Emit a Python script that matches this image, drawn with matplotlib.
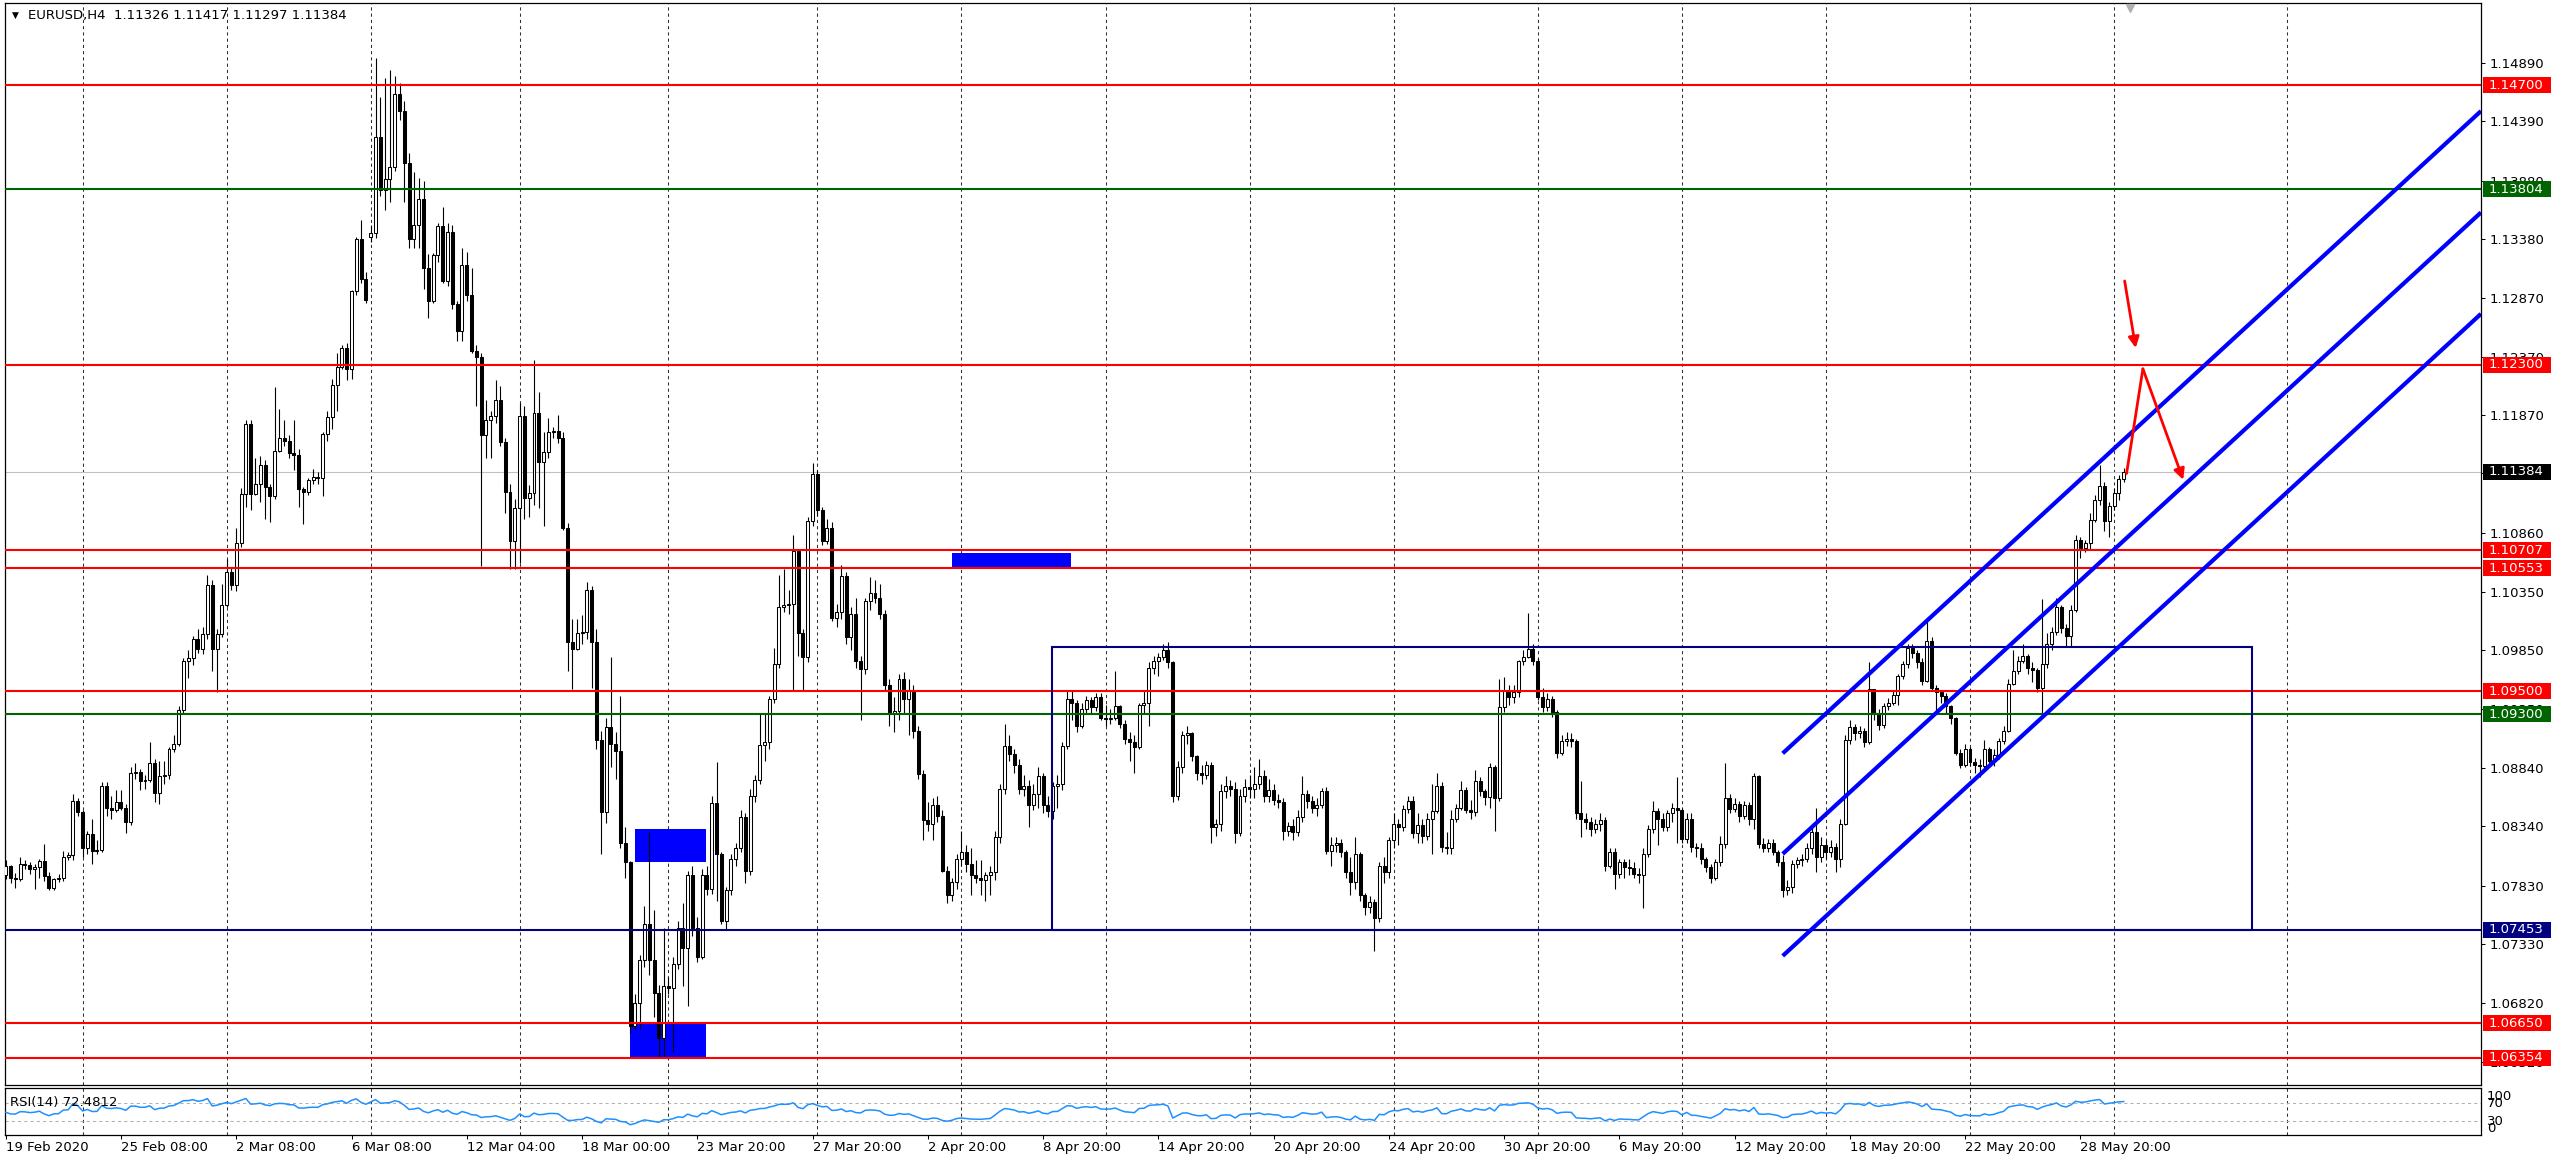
import numpy as np
import matplotlib
matplotlib.use('Agg')
import matplotlib.pyplot as plt
from matplotlib.patches import Rectangle
import matplotlib.transforms as mtransforms

plt.rcParams['font.family'] = ['DejaVu Sans']

# ---------------- DATA ----------------
header_text = "EURUSD,H4  1.11326 1.11417 1.11297 1.11384"
rsi_label = "RSI(14) 72.4812"

# H4 candles, prices in pips above 1.0000 (e.g. 800 -> 1.0800)
first_open_pips = 792
gap_open_pips = {76: 1340}
close_pips = [
    800, 790, 789, 802, 801, 797, 799, 804, 791, 781,
    789, 790, 808, 809, 856, 846, 815, 827, 813, 814,
    869, 850, 848, 855, 850, 838, 880, 881, 873, 874,
    888, 863, 877, 878, 900, 905, 934, 976, 978, 995,
    986, 999, 1041, 986, 999, 1024, 1052, 1041, 1077, 1119,
    1179, 1119, 1128, 1144, 1125, 1117, 1156, 1167, 1165, 1154,
    1153, 1123, 1121, 1131, 1134, 1133, 1171, 1185, 1213, 1228,
    1244, 1226, 1293, 1338, 1304, 1286, 1343, 1425, 1380, 1389,
    1400, 1462, 1448, 1403, 1338, 1350, 1372, 1313, 1285, 1324,
    1349, 1302, 1344, 1282, 1259, 1316, 1290, 1242, 1237, 1170,
    1183, 1186, 1200, 1164, 1121, 1079, 1107, 1186, 1116, 1120,
    1189, 1147, 1155, 1172, 1173, 1167, 1090, 992, 986, 1000,
    1001, 1037, 992, 908, 846, 919, 905, 899, 820, 803,
    663, 682, 719, 750, 719, 691, 652, 697, 695, 716,
    747, 730, 792, 747, 722, 792, 780, 854, 810, 753,
    779, 806, 815, 842, 796, 860, 874, 904, 906, 943,
    973, 1022, 1024, 1025, 1070, 1000, 979, 1096, 1136, 1105,
    1079, 1090, 1013, 1018, 1049, 996, 1016, 976, 969, 1027,
    1034, 1030, 1016, 955, 930, 933, 960, 943, 950, 916,
    879, 839, 836, 852, 843, 796, 775, 786, 806, 812,
    802, 792, 790, 788, 792, 795, 825, 866, 903, 896,
    887, 866, 869, 852, 862, 877, 852, 847, 869, 870,
    903, 943, 940, 920, 935, 942, 936, 945, 927, 926,
    927, 937, 922, 909, 906, 902, 938, 940, 970, 976,
    979, 985, 975, 860, 885, 912, 914, 894, 880, 878,
    887, 833, 836, 864, 869, 866, 828, 860, 868, 866,
    870, 877, 860, 865, 857, 855, 830, 834, 829, 842,
    862, 856, 850, 852, 864, 813, 818, 820, 812, 795,
    786, 810, 775, 765, 769, 755, 800, 795, 822, 836,
    833, 849, 856, 828, 835, 826, 840, 847, 869, 816,
    815, 840, 850, 865, 848, 846, 873, 864, 859, 885,
    858, 936, 950, 945, 949, 976, 979, 986, 976, 945,
    936, 943, 932, 897, 907, 909, 907, 845, 840, 838,
    832, 836, 839, 800, 812, 793, 803, 799, 798, 793,
    792, 810, 832, 847, 840, 833, 845, 850, 848, 823,
    840, 816, 815, 806, 799, 790, 803, 819, 858, 849,
    853, 843, 852, 840, 877, 819, 815, 820, 812, 803,
    779, 782, 802, 805, 806, 815, 829, 808, 818, 812,
    816, 806, 836, 908, 919, 914, 916, 906, 952, 930,
    921, 937, 940, 947, 963, 973, 987, 983, 975, 959,
    993, 953, 949, 946, 937, 927, 897, 887, 900, 889,
    887, 886, 900, 890, 895, 907, 916, 956, 967, 976,
    980, 970, 968, 953, 973, 990, 1001, 1022, 1004, 997,
    1020, 1080, 1073, 1077, 1097, 1114, 1126, 1096, 1109, 1120,
    1132, 1138.4,
]
high_pips = [
    805, 801, 794, 808, 805, 803, 802, 806, 819, 795,
    790, 793, 813, 812, 862, 858, 848, 830, 840, 822,
    872, 872, 860, 865, 865, 853, 885, 888, 883, 878,
    906, 892, 890, 890, 902, 912, 937, 978, 985, 997,
    1003, 1005, 1050, 1045, 1003, 1042, 1063, 1056, 1090, 1124,
    1183, 1183, 1150, 1152, 1148, 1128, 1211, 1192, 1183, 1170,
    1183, 1158, 1125, 1133, 1141, 1138, 1172, 1190, 1218, 1240,
    1247, 1249, 1294, 1340, 1354, 1310, 1350, 1493, 1460, 1476,
    1483, 1478, 1472, 1456, 1412, 1395, 1390, 1388, 1325, 1326,
    1352, 1365, 1352, 1350, 1285, 1330, 1327, 1313, 1247, 1240,
    1200, 1190, 1217, 1212, 1167, 1128, 1115, 1197, 1195, 1127,
    1234, 1207, 1172, 1184, 1177, 1187, 1172, 1094, 1012, 1012,
    1015, 1044, 1040, 1003, 916, 927, 979, 915, 946, 833,
    804, 690, 724, 766, 829, 762, 698, 747, 705, 722,
    753, 768, 796, 800, 756, 797, 800, 860, 889, 812,
    782, 810, 820, 848, 845, 866, 878, 931, 931, 946,
    987, 1050, 1055, 1037, 1084, 1071, 1003, 1099, 1146, 1140,
    1108, 1098, 1095, 1025, 1058, 1052, 1022, 1030, 980, 1030,
    1048, 1045, 1042, 1020, 960, 945, 965, 966, 960, 955,
    920, 882, 855, 858, 860, 848, 800, 790, 810, 830,
    818, 815, 805, 805, 795, 800, 830, 870, 922, 912,
    900, 892, 878, 874, 870, 885, 880, 860, 872, 878,
    906, 950, 950, 942, 940, 946, 945, 948, 948, 938,
    935, 967, 938, 925, 915, 912, 940, 950, 975, 980,
    983, 990, 992, 976, 890, 916, 920, 915, 895, 887,
    890, 889, 840, 870, 877, 874, 872, 866, 875, 878,
    885, 892, 882, 875, 870, 862, 858, 838, 840, 848,
    877, 865, 860, 858, 867, 868, 825, 825, 823, 814,
    808, 825, 812, 777, 774, 772, 803, 808, 825, 845,
    840, 852, 860, 860, 845, 840, 845, 870, 880, 872,
    829, 848, 853, 873, 868, 857, 882, 876, 866, 888,
    887, 960, 962, 955, 955, 977, 985, 1017, 990, 978,
    953, 948, 946, 934, 912, 915, 914, 909, 873, 845,
    842, 840, 845, 842, 815, 815, 806, 806, 806, 803,
    798, 815, 835, 856, 850, 845, 848, 854, 876, 850,
    845, 845, 820, 820, 808, 802, 806, 826, 888, 862,
    858, 856, 856, 855, 880, 878, 824, 823, 823, 814,
    809, 788, 805, 808, 810, 820, 835, 850, 825, 822,
    822, 820, 840, 912, 925, 922, 920, 918, 975, 952,
    935, 940, 944, 950, 965, 976, 990, 990, 985, 978,
    1009, 996, 955, 950, 948, 938, 928, 900, 905, 902,
    893, 892, 908, 902, 900, 910, 920, 960, 985, 980,
    990, 982, 975, 970, 1029, 1000, 1005, 1030, 1024, 1008,
    1024, 1084, 1082, 1080, 1103, 1118, 1144, 1129, 1112, 1124,
    1135, 1141.7,
]
low_pips = [
    789, 785, 781, 787, 797, 793, 780, 790, 787, 779,
    779, 786, 787, 805, 805, 843, 808, 810, 802, 810,
    812, 843, 840, 846, 848, 828, 835, 875, 865, 866,
    872, 855, 853, 870, 875, 898, 903, 930, 961, 972,
    983, 982, 995, 967, 949, 996, 1022, 1037, 1036, 1074,
    1108, 1105, 1118, 1112, 1098, 1095, 1115, 1155, 1160, 1150,
    1140, 1108, 1093, 1118, 1128, 1128, 1117, 1165, 1175, 1190,
    1226, 1217, 1218, 1290, 1300, 1283, 1335, 1339, 1375, 1363,
    1370, 1396, 1440, 1370, 1330, 1330, 1330, 1295, 1270, 1283,
    1318, 1300, 1298, 1278, 1250, 1250, 1285, 1240, 1195, 1057,
    1150, 1150, 1180, 1160, 1103, 1055, 1055, 1060, 1098, 1099,
    1110, 1107, 1092, 1150, 1167, 1163, 1088, 967, 952, 985,
    990, 995, 953, 900, 810, 837, 885, 875, 815, 790,
    657, 660, 660, 713, 706, 670, 636, 636, 690, 640,
    712, 697, 680, 740, 718, 720, 775, 776, 770, 750,
    745, 775, 800, 812, 785, 792, 855, 870, 890, 900,
    940, 970, 1018, 1016, 950, 980, 950, 975, 1092, 1100,
    1075, 1076, 1010, 1005, 1012, 990, 985, 970, 925, 965,
    1020, 1026, 1012, 950, 920, 915, 925, 930, 912, 910,
    875, 822, 830, 822, 838, 795, 768, 770, 780, 800,
    795, 775, 785, 775, 770, 775, 788, 820, 862, 890,
    880, 862, 860, 833, 848, 850, 845, 842, 840, 850,
    865, 900, 925, 915, 918, 930, 930, 933, 925, 920,
    922, 925, 918, 905, 890, 880, 900, 930, 920, 965,
    963, 977, 970, 855, 857, 880, 905, 890, 874, 870,
    875, 820, 826, 830, 858, 860, 820, 826, 855, 858,
    858, 866, 855, 855, 852, 850, 822, 826, 822, 826,
    838, 850, 845, 843, 850, 810, 800, 812, 808, 790,
    775, 780, 770, 758, 760, 727, 752, 785, 790, 815,
    818, 830, 845, 824, 820, 820, 822, 810, 845, 812,
    810, 810, 838, 848, 845, 840, 843, 860, 852, 850,
    830, 856, 932, 938, 940, 945, 972, 978, 972, 942,
    932, 933, 928, 893, 895, 903, 902, 840, 825, 832,
    826, 828, 830, 796, 798, 780, 790, 790, 792, 790,
    785, 764, 808, 828, 818, 830, 830, 838, 820, 820,
    820, 812, 808, 802, 795, 785, 788, 800, 815, 845,
    846, 838, 840, 835, 832, 815, 812, 812, 809, 800,
    773, 775, 777, 798, 800, 803, 810, 795, 803, 806,
    808, 795, 799, 835, 905, 908, 910, 902, 905, 925,
    917, 918, 934, 938, 938, 960, 970, 978, 970, 955,
    958, 950, 930, 940, 930, 922, 895, 884, 885, 886,
    880, 876, 881, 885, 886, 892, 905, 915, 955, 965,
    974, 965, 958, 949, 928, 970, 985, 998, 1000, 988,
    988, 1018, 1064, 1069, 1071, 1095, 1110, 1087, 1082, 1105,
    1114, 1129.7,
]

x_labels = ["19 Feb 2020", "25 Feb 08:00", "2 Mar 08:00", "6 Mar 08:00", "12 Mar 04:00",
            "18 Mar 00:00", "23 Mar 20:00", "27 Mar 20:00", "2 Apr 20:00", "8 Apr 20:00",
            "14 Apr 20:00", "20 Apr 20:00", "24 Apr 20:00", "30 Apr 20:00", "6 May 20:00",
            "12 May 20:00", "18 May 20:00", "22 May 20:00", "28 May 20:00"]
x_label_bars = list(range(0, 24 * len(x_labels), 24))
week_grid_bars = [16, 46, 76, 107, 138, 169, 199, 229, 259, 289, 319, 349, 379, 409, 439, 475]

price_ticks = [1.14890, 1.14390, 1.13880, 1.13380, 1.12870, 1.12370, 1.11870, 1.11370,
               1.10860, 1.10350, 1.09850, 1.09350, 1.08840, 1.08340, 1.07830, 1.07330,
               1.06820, 1.06320]

RED, GREEN, NAVY, BLUE = '#FF0000', '#006400', '#000080', '#0000FF'
level_prices = [1.14700, 1.13804, 1.12300, 1.10707, 1.10553, 1.09500, 1.09300, 1.07453, 1.06650, 1.06354]
level_colors = [RED, GREEN, RED, RED, RED, RED, GREEN, NAVY, RED, RED]
bid_price = 1.11384

# filled rectangles: (bar_from, bar_to, price_low, price_high)
filled_rects = [(197.0, 221.9, 1.10551, 1.10688),
                (131.0, 145.9, 1.08030, 1.08320),
                (130.0, 145.9, 1.06347, 1.06645)]
range_box = (217.9, 467.7, 1.07453, 1.09882)

channel_bars = (370.0, 515.4)
channel_start = [1.08966, 1.08103, 1.07228]
channel_end = [1.14477, 1.13607, 1.12737]

arrow1 = [(441.2, 1.13019), (443.5, 1.12444)]
arrow2 = [(441.6, 1.11367), (445.0, 1.12265), (453.4, 1.11313)]

# ---------------- FIGURE ----------------
W, H = 2559, 1164
fig = plt.figure(figsize=(W / 100, H / 100), dpi=100, facecolor='white')

def fx(px):
    return px / W

def fy(py):
    return 1 - py / H

ax_l, ax_r_px = 5, 2481
main_top, main_bot = 3, 1085.4
rsi_top, rsi_bot = 1087.5, 1135
ax = fig.add_axes([fx(ax_l), fy(main_bot), (ax_r_px - ax_l) / W, (main_bot - main_top) / H])
axr = fig.add_axes([fx(ax_l), fy(rsi_bot), (ax_r_px - ax_l) / W, (rsi_bot - rsi_top) / H])

ymin, ymax = 1.06117, 1.15404
xmin, xmax = -0.15, 515.4

closes = 1 + np.array(close_pips, dtype=float) / 1e4
highs = 1 + np.array(high_pips, dtype=float) / 1e4
lows = 1 + np.array(low_pips, dtype=float) / 1e4
n = min(len(closes), len(highs), len(lows))
closes, highs, lows = closes[:n], highs[:n], lows[:n]
opens = np.empty(n)
opens[0] = 1 + first_open_pips / 1e4
opens[1:] = closes[:-1]
for k, v in gap_open_pips.items():
    if k < n:
        opens[k] = 1 + v / 1e4
highs = np.maximum(highs, np.maximum(opens, closes))
lows = np.minimum(lows, np.minimum(opens, closes))
xs = np.arange(n)

for a in (ax, axr):
    a.set_xlim(xmin, xmax)
    for b in week_grid_bars:
        a.axvline(b, color='#303030', lw=0.75, ls=(0, (3, 3)), zorder=0.5)
    for s in a.spines.values():
        s.set_color('black')
        s.set_linewidth(0.9)

ax.set_ylim(ymin, ymax)

# filled rectangles (background)
for b0, b1, p0, p1 in filled_rects:
    ax.add_patch(Rectangle((b0, p0), b1 - b0, p1 - p0, facecolor=BLUE, edgecolor='none', zorder=1))

# bid line
ax.axhline(bid_price, color='#C0C0C0', lw=0.8, zorder=1.2)

# candles
up = closes >= opens
ax.vlines(xs, lows, highs, color='black', lw=0.8, zorder=2)
body_lo = np.minimum(opens, closes)
body_h = np.abs(closes - opens)
ax.bar(xs[up], body_h[up], bottom=body_lo[up], width=0.62, facecolor='white',
       edgecolor='black', linewidth=0.75, zorder=3)
ax.bar(xs[~up], body_h[~up], bottom=body_lo[~up], width=0.62, facecolor='black',
       edgecolor='black', linewidth=0.75, zorder=3)

# horizontal levels
for p, c in zip(level_prices, level_colors):
    ax.axhline(p, color=c, lw=1.5, zorder=4)

# range box
b0, b1, p0, p1 = range_box
ax.add_patch(Rectangle((b0, p0), b1 - b0, p1 - p0, facecolor='none', edgecolor=NAVY, lw=1.5, zorder=4))

# channel
for s, e in zip(channel_start, channel_end):
    ax.plot(channel_bars, [s, e], color=BLUE, lw=3.0, solid_capstyle='butt', zorder=5)

# red arrows
ax.annotate('', xy=arrow1[1], xytext=arrow1[0],
            arrowprops=dict(arrowstyle='-|>', color=RED, lw=2.0, mutation_scale=16,
                            shrinkA=0, shrinkB=0), zorder=6)
ax.plot([arrow2[0][0], arrow2[1][0]], [arrow2[0][1], arrow2[1][1]], color=RED, lw=2.0, zorder=6,
        solid_capstyle='round')
ax.annotate('', xy=arrow2[2], xytext=arrow2[1],
            arrowprops=dict(arrowstyle='-|>', color=RED, lw=2.0, mutation_scale=16,
                            shrinkA=0, shrinkB=0), zorder=6)

# chart shift marker
ax.plot([442.3], [ymax - 5 * (ymax - ymin) / (main_bot - main_top)], marker='v', ms=6,
        color='#B0B0B0', clip_on=False, zorder=7)

# y axis (right)
ax.set_xticks([])
ax.yaxis.tick_right()
ax.set_yticks(price_ticks)
ax.set_yticklabels([f"{p:.5f}" for p in price_ticks])
ax.tick_params(axis='y', length=3, width=0.75, pad=3, labelsize=9.5, colors='black')

# level labels on the price axis
trans = mtransforms.blended_transform_factory(ax.transAxes, ax.transData)
ax_w_px = ax_r_px - ax_l
px_price = (ymax - ymin) / (main_bot - main_top)
box_x0 = (2483 - ax_l) / ax_w_px
box_w = 68 / ax_w_px
text_x = (2489 - ax_l) / ax_w_px
labels = list(zip(level_prices, level_colors)) + [(bid_price, 'black')]
for p, c in labels:
    ax.add_patch(Rectangle((box_x0, p - 8 * px_price), box_w, 16 * px_price, transform=trans,
                           facecolor=c, edgecolor='none', clip_on=False, zorder=10))
    ax.text(text_x, p, f"{p:.5f}", transform=trans, color='white', fontsize=9.5,
            va='center', ha='left', zorder=11, clip_on=False)

# ---------------- RSI ----------------
def wilder_rsi(c, period=14):
    d = np.diff(c, prepend=c[0])
    g = np.clip(d, 0, None)
    l = np.clip(-d, 0, None)
    seed = np.abs(d[1:period + 1]).mean() / 2
    ag = np.full_like(c, seed)
    al = np.full_like(c, seed)
    out = np.full_like(c, 50.0)
    for i in range(1, len(c)):
        ag[i] = (ag[i - 1] * (period - 1) + g[i]) / period
        al[i] = (al[i - 1] * (period - 1) + l[i]) / period
        out[i] = 100.0 if al[i] == 0 else 100 - 100 / (1 + ag[i] / al[i])
    return out

rsi = wilder_rsi(closes)
axr.set_ylim(-0.9, 105.4)
for lvl in (70, 30):
    axr.axhline(lvl, color='#B0B0B0', lw=0.75, ls=(0, (3, 3)), zorder=1)
axr.plot(xs, rsi, color='#1E90FF', lw=1.1, zorder=3)
axr.set_yticks([])
rtrans = mtransforms.blended_transform_factory(axr.transAxes, axr.transData)
rx = (2487 - ax_l) / ax_w_px
for val, txt, va in [(100, '100', 'top'), (70, '70', 'center'), (30, '30', 'center'), (0, '0', 'bottom')]:
    axr.text(rx, val, txt, transform=rtrans, fontsize=9.5, va=va, ha='left', clip_on=False, color='black')
fig.text(fx(10), fy(1102.7), rsi_label, fontsize=9.5, va='center', ha='left', color='black')

axr.set_xticks(x_label_bars)
axr.set_xticklabels(x_labels)
axr.tick_params(axis='x', length=3, width=0.75, pad=1.5, labelsize=9.5, colors='black')
for t in axr.get_xticklabels():
    t.set_horizontalalignment('left')

# header
fig.text(fx(15), fy(15), '\u25BC', fontsize=6.5, va='center', ha='center', color='black')
fig.text(fx(27.7), fy(15), header_text, fontsize=9.5, va='center', ha='left', color='black')

fig.savefig('out.png', dpi=100, facecolor='white')
